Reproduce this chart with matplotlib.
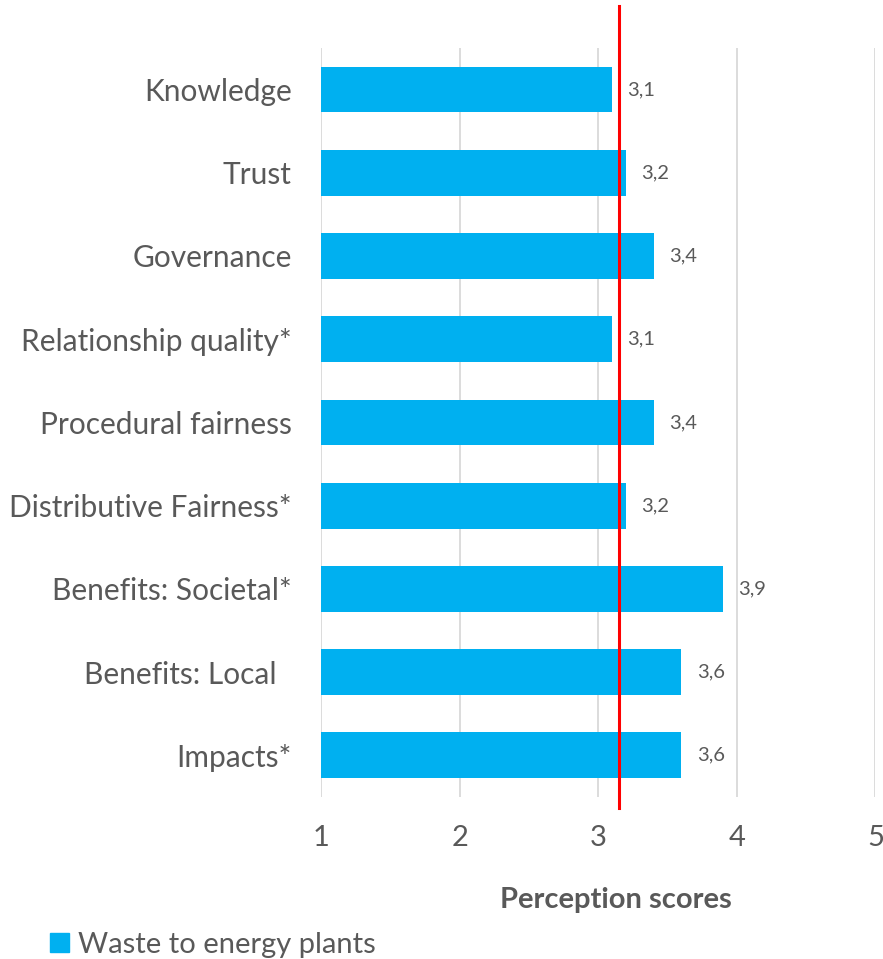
import matplotlib.pyplot as plt
import matplotlib.patches as mpatches

categories = ['Knowledge', 'Trust', 'Governance', 'Relationship quality*',
              'Procedural fairness', 'Distributive Fairness*',
              'Benefits: Societal*', 'Benefits: Local  ', 'Impacts*']
scores = [3.1, 3.2, 3.4, 3.1, 3.4, 3.2, 3.9, 3.6, 3.6]
x_ticks = [1, 2, 3, 4, 5]
mean_score = 3.15

BAR = '#00B0F0'
TEXT = '#595959'
GRID = '#D9D9D9'

plt.rcParams['font.family'] = ['Lato', 'DejaVu Sans']


def main():
    fig = plt.figure(figsize=(8.83, 9.59), dpi=100)
    ax = fig.add_axes([0.3635, 0.169, 0.628, 0.781])

    ypos = list(range(len(categories)))
    base = x_ticks[0]
    ax.barh(ypos, [s - base for s in scores], left=base, height=0.55,
            color=BAR, zorder=2)

    for y, s in zip(ypos, scores):
        ax.annotate(f'{s:.1f}'.replace('.', ','), xy=(s, y),
                    xytext=(11, 0), textcoords='offset points',
                    va='center', ha='left', fontsize=14.5, color=TEXT)

    # reference line for the mean score, running past the plot area
    ax.plot([mean_score, mean_score], [-1.01, 8.63], color='#FF0000',
            lw=2.2, clip_on=False, zorder=3)

    ax.set_xlim(x_ticks[0], x_ticks[-1])
    ax.set_ylim(len(categories) - 0.5, -0.5)
    ax.set_xticks(x_ticks)
    ax.set_xticklabels([str(t) for t in x_ticks])
    ax.set_yticks(ypos)
    ax.set_yticklabels(categories)
    ax.tick_params(axis='x', length=0, pad=20, labelsize=21, labelcolor=TEXT)
    ax.tick_params(axis='y', length=0, pad=21, labelsize=21.5, labelcolor=TEXT)

    ax.grid(axis='x', color=GRID, lw=1.3, zorder=0)
    for sp in ax.spines.values():
        sp.set_visible(False)

    fig.text(0.698, 0.0615, 'Perception scores', ha='center', va='center',
             fontsize=21, fontweight='bold', color=TEXT)

    handle = mpatches.Patch(color=BAR, label='Waste to energy plants')
    fig.legend(handles=[handle], loc='center left',
               bbox_to_anchor=(0.04, 0.015), frameon=False, fontsize=21,
               labelcolor=TEXT, handlelength=0.65, handleheight=0.65,
               handletextpad=0.3, borderpad=0)

    plt.savefig('out.png', dpi=100)


if __name__ == '__main__':
    main()
